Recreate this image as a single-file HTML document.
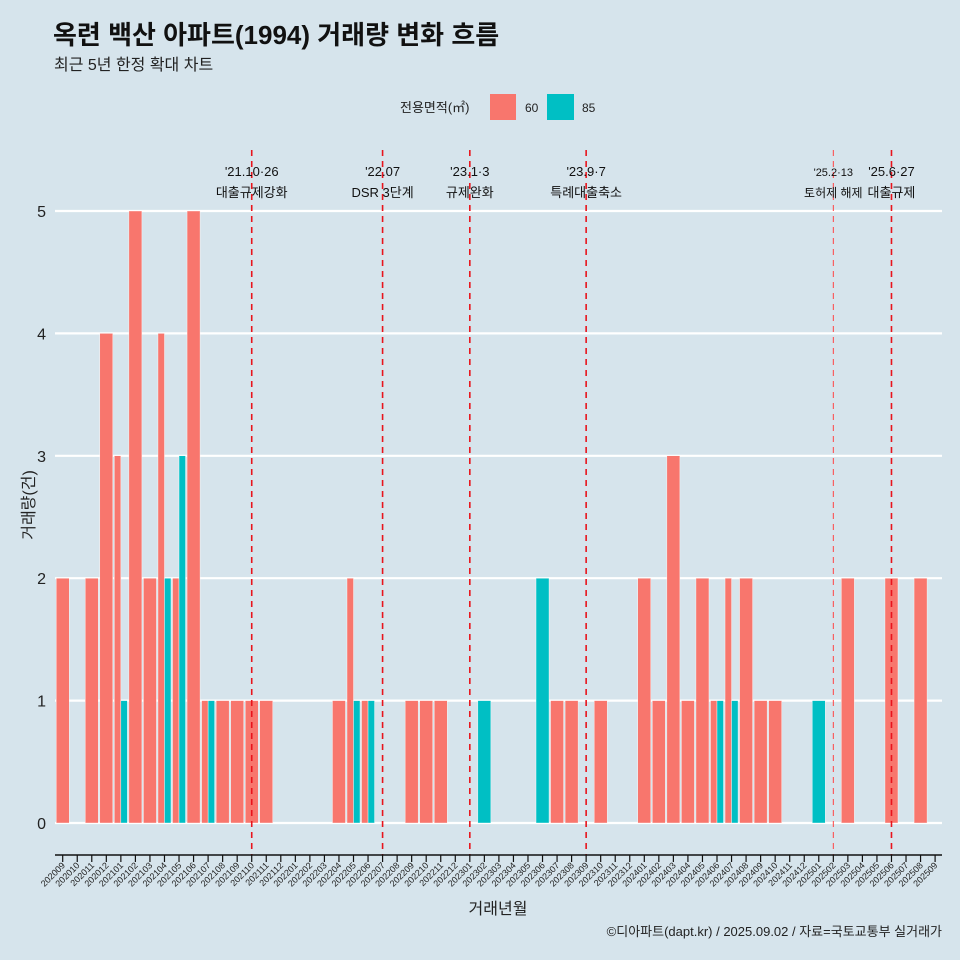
<!DOCTYPE html>
<html><head><meta charset="utf-8"><style>
body{margin:0;background:#d6e4ec;}
svg{display:block;font-family:"Liberation Sans","Noto Sans CJK KR",sans-serif;}
</style></head><body>
<svg id="c" width="960" height="960" viewBox="0 0 960 960">
<rect width="960" height="960" fill="#d6e4ec"/>
<text x="53" y="44" font-size="26" font-weight="bold" fill="#111">옥련 백산 아파트(1994) 거래량 변화 흐름</text>
<text x="54" y="70" font-size="16" fill="#222">최근 5년 한정 확대 차트</text>
<g>
<text x="400" y="112" font-size="13" fill="#222">전용면적(㎡)</text>
<rect x="490" y="94" width="26" height="26" fill="#f8766d"/>
<text x="525" y="112" font-size="12" fill="#222">60</text>
<rect x="547" y="94" width="27" height="26" fill="#00bfc4"/>
<text x="582" y="112" font-size="12" fill="#222">85</text>
</g>
<g id="grid"></g><g id="bars"></g><g id="vl"></g><g id="xa"></g>
<text x="34" y="505" font-size="16" fill="#222" text-anchor="middle" transform="rotate(-90 34 505)">거래량(건)</text>
<text x="498" y="914" font-size="16" fill="#222" text-anchor="middle">거래년월</text>
<text x="942" y="936" font-size="13" fill="#222" text-anchor="end">©디아파트(dapt.kr) / 2025.09.02 / 자료=국토교통부 실거래가</text>
</svg>
<script>
const months=[];for(let y=2020,m=9;!(y===2025&&m===10);){months.push(''+y+(m<10?'0':'')+m);m++;if(m>12){m=1;y++;}}
const s60={"202009":2,"202011":2,"202012":4,"202101":3,"202102":5,"202103":2,"202104":4,"202105":2,"202106":5,"202107":1,"202108":1,"202109":1,"202110":1,"202111":1,"202204":1,"202205":2,"202206":1,"202209":1,"202210":1,"202211":1,"202307":1,"202308":1,"202310":1,"202401":2,"202402":1,"202403":3,"202404":1,"202405":2,"202406":1,"202407":2,"202408":2,"202409":1,"202410":1,"202503":2,"202506":2,"202508":2};
const s85={"202101":1,"202104":2,"202105":3,"202107":1,"202205":1,"202206":1,"202302":1,"202306":2,"202406":1,"202407":1,"202501":1};
const yTicks=[0,1,2,3,4,5];
const events=[["202110","'21.10·26","대출규제강화",0],["202207","'22.07","DSR 3단계",0],["202301","'23.1·3","규제완화",0],["202309","'23.9·7","특례대출축소",0],["202502","'25.2·13","토허제 해제",1],["202506","'25.6·27","대출규제",0]];
const NS="http://www.w3.org/2000/svg";
function mk(t,a,p,txt){const e=document.createElementNS(NS,t);for(const k in a)e.setAttribute(k,a[k]);if(txt!==undefined)e.textContent=txt;document.getElementById(p).appendChild(e);return e;}
const x0=62.7,step=14.54,y0=823,unit=122.4;
const X=i=>x0+i*step, Y=v=>y0-v*unit;
yTicks.forEach(v=>{
 let l=mk('line',{x1:55,x2:942,y1:Y(v),y2:Y(v),stroke:'#fff','stroke-width':2.2},'grid');
 
 
 let t=mk('text',{x:46,y:Y(v)+6,'font-size':16,'text-anchor':'end',fill:'#222'},'grid',String(v));
 
 
});
const bw=13;
months.forEach((m,i)=>{
 const a=s60[m],b=s85[m],cx=X(i);
 if(a&&b){
  let r=mk('rect',{x:cx-bw/2,y:Y(a),width:bw/2,height:a*unit,fill:'#f8766d',stroke:'#fff','stroke-width':0.4},'bars');
  
  
  let r2=mk('rect',{x:cx,y:Y(b),width:bw/2,height:b*unit,fill:'#00bfc4',stroke:'#fff','stroke-width':0.4},'bars');
  
  
 }else if(a||b){
  const v=a||b;
  let r=mk('rect',{x:cx-bw/2,y:Y(v),width:bw,height:v*unit,fill:a?'#f8766d':'#00bfc4',stroke:'#fff','stroke-width':0.4},'bars');
  
  
 }
});
events.forEach(([m,d,lab,thin])=>{
 const cx=X(months.indexOf(m));
 let l=mk('line',{x1:cx,x2:cx,y1:150,y2:855,stroke:thin?'#f44':'#e8141c','stroke-width':thin?1:1.6,'stroke-dasharray':'6 5'},'vl');
 
 
 let t=mk('text',{x:cx,y:176,'font-size':thin?11:13,'text-anchor':'middle',fill:'#111'},'vl',d);
 
 
 let t2=mk('text',{x:cx,y:197,'font-size':thin?12:13,'text-anchor':'middle',fill:'#111'},'vl',lab);
 
 
});
let ax=mk('line',{x1:55,x2:942,y1:855,y2:855,stroke:'#111','stroke-width':1.6},'xa');


months.forEach((m,i)=>{
 const cx=X(i);
 let t=mk('line',{x1:cx,x2:cx,y1:855,y2:862,stroke:'#111','stroke-width':1.2},'xa');
 
 
 let tl=mk('text',{x:cx+3,y:866,'font-size':9,'text-anchor':'end',fill:'#222',transform:`rotate(-45 ${cx+3} 866)`},'xa',m);
 
 
});
</script>
</body></html>
